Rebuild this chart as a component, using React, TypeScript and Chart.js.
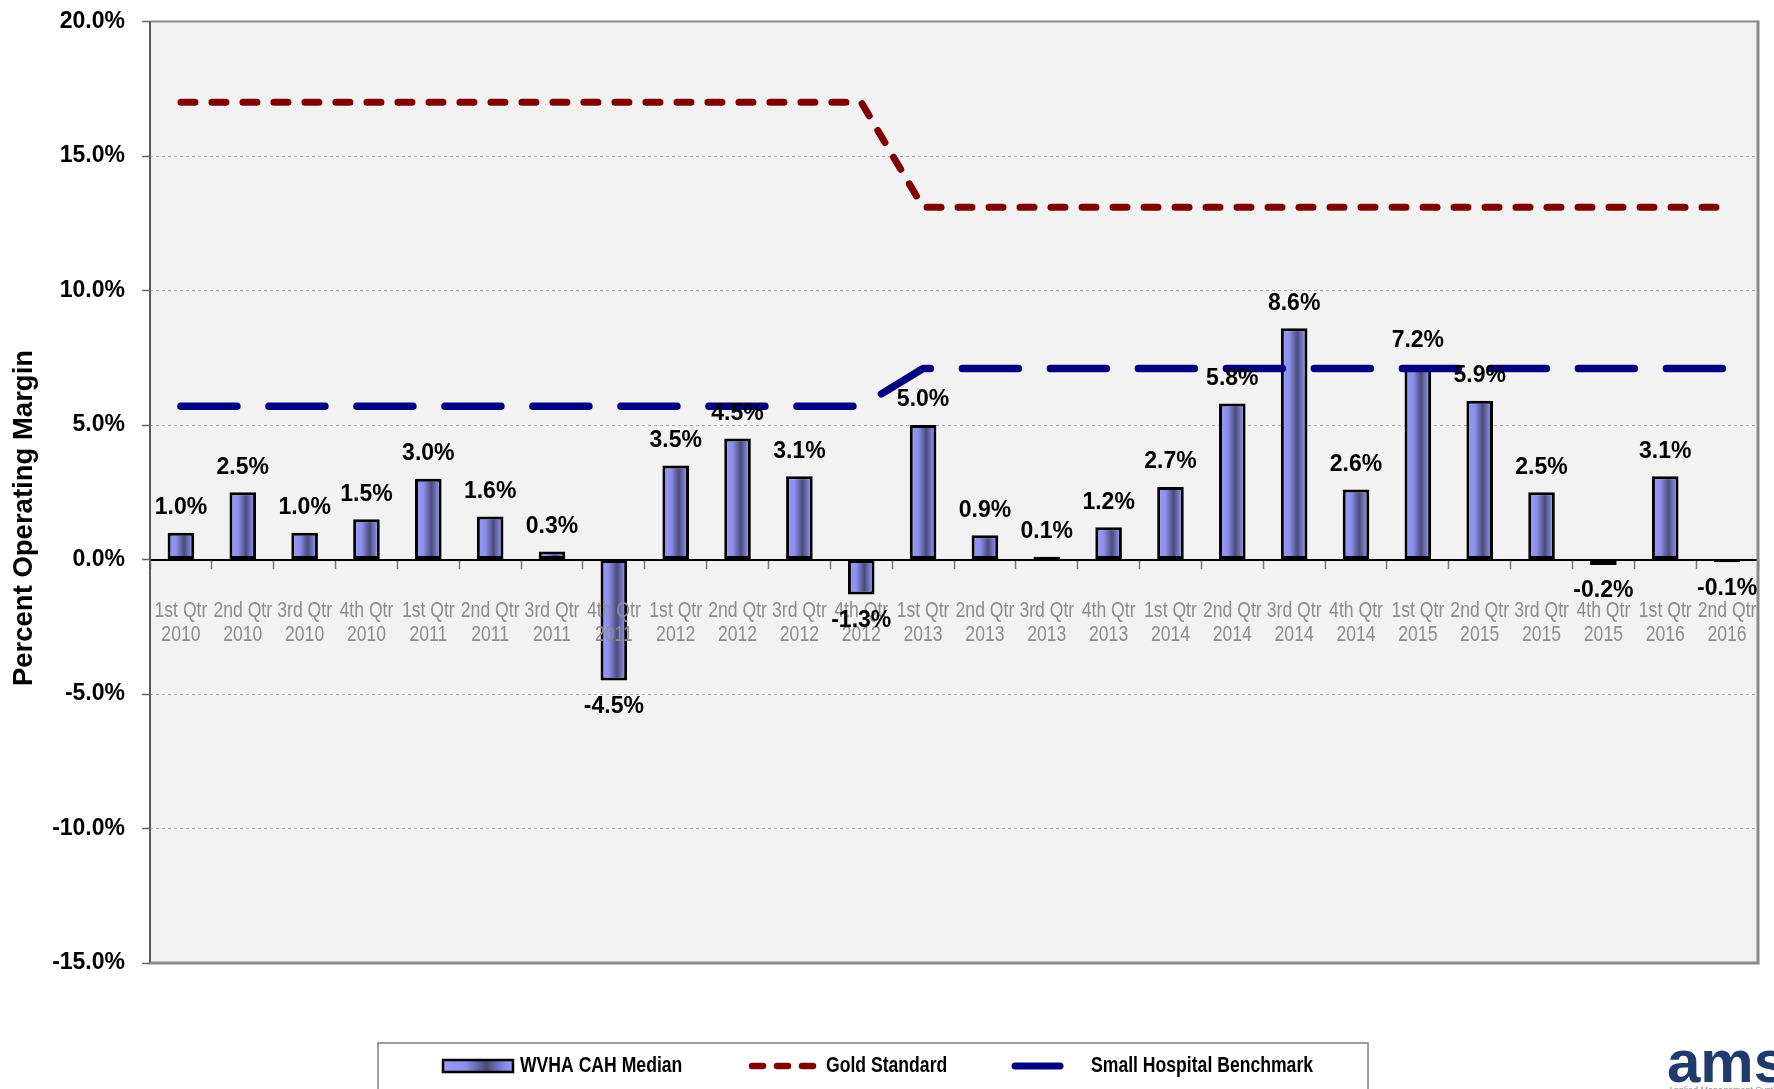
import React, { useEffect, useRef } from 'react';
import { Chart, registerables } from 'chart.js';

Chart.register(...registerables);

const quarterLabels = [
  ['1st Qtr', '2010'], ['2nd Qtr', '2010'], ['3rd Qtr', '2010'], ['4th Qtr', '2010'],
  ['1st Qtr', '2011'], ['2nd Qtr', '2011'], ['3rd Qtr', '2011'], ['4th Qtr', '2011'],
  ['1st Qtr', '2012'], ['2nd Qtr', '2012'], ['3rd Qtr', '2012'], ['4th Qtr', '2012'],
  ['1st Qtr', '2013'], ['2nd Qtr', '2013'], ['3rd Qtr', '2013'], ['4th Qtr', '2013'],
  ['1st Qtr', '2014'], ['2nd Qtr', '2014'], ['3rd Qtr', '2014'], ['4th Qtr', '2014'],
  ['1st Qtr', '2015'], ['2nd Qtr', '2015'], ['3rd Qtr', '2015'], ['4th Qtr', '2015'],
  ['1st Qtr', '2016'], ['2nd Qtr', '2016'],
];

const medianValues = [
  1.0, 2.5, 1.0, 1.5, 3.0, 1.6, 0.3, -4.5, 3.5, 4.5, 3.1, -1.3, 5.0,
  0.9, 0.1, 1.2, 2.7, 5.8, 8.6, 2.6, 7.2, 5.9, 2.5, -0.2, 3.1, -0.1,
];

const goldStandard = [
  17.0, 17.0, 17.0, 17.0, 17.0, 17.0, 17.0, 17.0, 17.0, 17.0, 17.0, 17.0, 13.1,
  13.1, 13.1, 13.1, 13.1, 13.1, 13.1, 13.1, 13.1, 13.1, 13.1, 13.1, 13.1, 13.1,
];

const smallHospitalBenchmark = [
  5.7, 5.7, 5.7, 5.7, 5.7, 5.7, 5.7, 5.7, 5.7, 5.7, 5.7, 5.7, 7.1,
  7.1, 7.1, 7.1, 7.1, 7.1, 7.1, 7.1, 7.1, 7.1, 7.1, 7.1, 7.1, 7.1,
];

const seriesNames = ['WVHA CAH Median', 'Gold Standard', 'Small Hospital Benchmark'];
const yAxisTitle = 'Percent Operating Margin';
const yMin = -15;
const yMax = 20;
const yStep = 5;

const BOLD = "'Liberation Sans', Arial, sans-serif";
const BAR_PCT = 0.43;
const NARROW_X = 0.8;

function makeGradient(ctx: CanvasRenderingContext2D, x0: number, x1: number) {
  const g = ctx.createLinearGradient(x0, 0, x1, 0);
  g.addColorStop(0, '#979afa');
  g.addColorStop(0.32, '#8c8fec');
  g.addColorStop(0.62, '#4a4b78');
  g.addColorStop(0.88, '#878ae4');
  g.addColorStop(1, '#979afa');
  return g;
}

function narrowText(ctx: CanvasRenderingContext2D, text: string, x: number, y: number, align: 'left' | 'center') {
  ctx.save();
  ctx.translate(x, y);
  ctx.scale(NARROW_X, 1);
  ctx.textAlign = align;
  ctx.fillText(text, 0, 0);
  ctx.restore();
}

const framePlugin = {
  id: 'frame',
  beforeDraw(chart: any) {
    const { ctx, chartArea: a } = chart;
    ctx.save();
    ctx.fillStyle = '#f2f2f2';
    ctx.fillRect(a.left, a.top, a.right - a.left, a.bottom - a.top);
    ctx.restore();
  },
  beforeDatasetsDraw(chart: any) {
    const { ctx, chartArea: a } = chart;
    ctx.save();
    ctx.lineCap = 'butt';
    ctx.strokeStyle = '#888888';
    ctx.lineWidth = 2;
    ctx.beginPath();
    ctx.moveTo(a.left, a.top);
    ctx.lineTo(a.right, a.top);
    ctx.stroke();
    ctx.strokeStyle = '#5a5a5a';
    ctx.beginPath();
    ctx.moveTo(a.left, a.top);
    ctx.lineTo(a.left, a.bottom);
    ctx.stroke();
    ctx.strokeStyle = '#8a8a8a';
    ctx.lineWidth = 3;
    ctx.beginPath();
    ctx.moveTo(a.right, a.top - 1);
    ctx.lineTo(a.right, a.bottom + 1.5);
    ctx.moveTo(a.left, a.bottom);
    ctx.lineTo(a.right + 1.5, a.bottom);
    ctx.stroke();
    ctx.restore();
  },
};

const labelsPlugin = {
  id: 'valueLabels',
  afterDraw(chart: any) {
    const { ctx } = chart;
    const xs = chart.scales.x;
    const ys = chart.scales.y;
    const y0 = ys.getPixelForValue(0);
    ctx.save();

    // category labels (condensed, grey) drawn over bars
    ctx.fillStyle = '#8c8c8c';
    ctx.font = `22px ${BOLD}`;
    ctx.textBaseline = 'middle';
    quarterLabels.forEach((lines, i) => {
      const x = xs.getPixelForValue(i);
      narrowText(ctx, lines[0], x, y0 + 51, 'center');
      narrowText(ctx, lines[1], x, y0 + 75, 'center');
    });

    // value labels
    const meta = chart.getDatasetMeta(0);
    ctx.fillStyle = '#000';
    ctx.font = `bold 23px ${BOLD}`;
    ctx.textAlign = 'center';
    ctx.textBaseline = 'middle';
    meta.data.forEach((el: any, i: number) => {
      const v = medianValues[i];
      const y = v >= 0 ? el.y - 25 : el.y + 26;
      ctx.fillText(v.toFixed(1) + '%', el.x, y);
    });

    // y axis title
    ctx.save();
    ctx.translate(24, 518);
    ctx.rotate(-Math.PI / 2);
    ctx.font = `bold 27.5px ${BOLD}`;
    ctx.fillText(yAxisTitle, 0, 0);
    ctx.restore();

    // legend
    const ly = 1066;
    ctx.strokeStyle = '#808080';
    ctx.lineWidth = 1.5;
    ctx.strokeRect(378, 1043, 990, 80);

    const g = makeGradient(ctx, 443, 513);
    ctx.fillStyle = g;
    ctx.fillRect(443, 1060, 70, 12);
    ctx.strokeStyle = '#000';
    ctx.lineWidth = 2.5;
    ctx.strokeRect(443, 1060, 70, 12);

    ctx.lineCap = 'round';
    ctx.strokeStyle = '#800000';
    ctx.lineWidth = 6.5;
    ctx.setLineDash([11, 14]);
    ctx.beginPath();
    ctx.moveTo(752, ly);
    ctx.lineTo(817, ly);
    ctx.stroke();
    ctx.setLineDash([]);

    ctx.strokeStyle = '#000080';
    ctx.lineWidth = 7;
    ctx.beginPath();
    ctx.moveTo(1015, ly);
    ctx.lineTo(1060, ly);
    ctx.stroke();

    ctx.fillStyle = '#000';
    ctx.font = `bold 22px ${BOLD}`;
    narrowText(ctx, seriesNames[0], 520, ly, 'left');
    narrowText(ctx, seriesNames[1], 826, ly, 'left');
    narrowText(ctx, seriesNames[2], 1091, ly, 'left');

    // logo
    ctx.fillStyle = '#1f3a6c';
    ctx.font = `bold 60px ${BOLD}`;
    ctx.textAlign = 'left';
    ctx.textBaseline = 'alphabetic';
    ctx.fillText('ams', 1667, 1082);
    ctx.fillStyle = '#8a8a8a';
    ctx.font = `9px ${BOLD}`;
    ctx.fillText('Applied Management Systems', 1668, 1093);
    ctx.restore();
  },
};

export default function App() {
  const canvasRef = useRef<HTMLCanvasElement | null>(null);

  useEffect(() => {
    if (!canvasRef.current) return;
    const barBackground = (c: any) => {
      const chart = c.chart;
      if (c.dataIndex === undefined || !chart.chartArea || !chart.scales.x) return '#8a8de8';
      const xs = chart.scales.x;
      const cx = xs.getPixelForValue(c.dataIndex);
      const w = (xs.width / quarterLabels.length) * BAR_PCT;
      return makeGradient(chart.ctx, cx - w / 2, cx + w / 2);
    };

    const chart = new Chart(canvasRef.current, {
      type: 'bar',
      data: {
        labels: quarterLabels,
        datasets: [
          {
            type: 'bar',
            label: seriesNames[0],
            data: medianValues,
            backgroundColor: barBackground,
            borderColor: '#000',
            borderWidth: 3,
            borderSkipped: false,
            barPercentage: BAR_PCT,
            categoryPercentage: 1,
            order: 3,
          } as any,
          {
            type: 'line',
            label: seriesNames[1],
            data: goldStandard,
            borderColor: '#800000',
            borderWidth: 7,
            borderDash: [14, 17],
            borderCapStyle: 'round',
            borderJoinStyle: 'round',
            pointRadius: 0,
            fill: false,
            tension: 0,
            order: 1,
          } as any,
          {
            type: 'line',
            label: seriesNames[2],
            data: smallHospitalBenchmark,
            borderColor: '#000080',
            borderWidth: 7.5,
            borderDash: [56, 32],
            borderCapStyle: 'round',
            borderJoinStyle: 'round',
            pointRadius: 0,
            fill: false,
            tension: 0,
            order: 2,
          } as any,
        ],
      },
      options: {
        animation: false,
        responsive: false,
        devicePixelRatio: 1,
        layout: { padding: { left: 0, right: 16, top: 20, bottom: 126 } },
        plugins: {
          legend: { display: false },
          tooltip: { enabled: false },
          title: { display: false },
        },
        scales: {
          x: {
            type: 'category',
            position: { y: 0 } as any,
            offset: true,
            z: 1,
            ticks: { display: false, autoSkip: false },
            grid: {
              offset: true,
              drawOnChartArea: false,
              drawTicks: true,
              tickLength: 8,
              tickColor: '#777',
              tickWidth: 1.5,
            },
            border: { display: true, color: '#000', width: 2 },
          } as any,
          y: {
            min: yMin,
            max: yMax,
            ticks: {
              stepSize: yStep,
              callback: (v: any) => Number(v).toFixed(1) + '%',
              color: '#000',
              font: { family: BOLD, size: 23, weight: 'bold', lineHeight: 0.4 },
              padding: 17,
            },
            grid: {
              color: (c: any) => {
                const v = c.tick ? c.tick.value : null;
                return v === 0 || v === yMax || v === yMin ? 'rgba(0,0,0,0)' : '#a8a8a8';
              },
              lineWidth: 1,
              tickLength: 8,
              tickColor: '#666',
              tickWidth: 1.5,
              tickBorderDash: [1, 0],
              drawTicks: true,
            },
            border: { display: false, dash: [3, 3] },
            afterFit: (scale: any) => {
              scale.width = 150;
            },
          } as any,
        },
      },
      plugins: [framePlugin, labelsPlugin],
    });
    return () => chart.destroy();
  }, []);

  return (
    <div style={{ position: 'absolute', left: 0, top: 0, width: 1774, height: 1089 }}>
      <canvas ref={canvasRef} width={1774} height={1089} style={{ width: 1774, height: 1089, display: 'block' }} />
    </div>
  );
}
